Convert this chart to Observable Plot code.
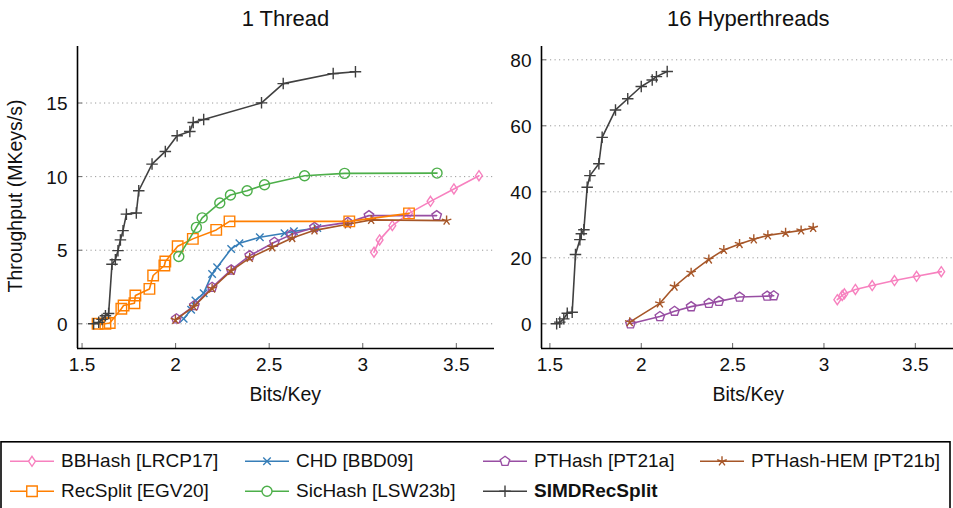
<!DOCTYPE html>
<html><head><meta charset="utf-8">
<script src="https://cdn.jsdelivr.net/npm/d3@7"></script>
<script src="https://cdn.jsdelivr.net/npm/@observablehq/plot@0.6"></script>
<style>
body{margin:0;background:#fff;}
#root{position:relative;width:953px;height:508px;overflow:hidden;font-family:"Liberation Sans",Arial,sans-serif;color:#000;background:#fff;}
.lbl{position:absolute;white-space:nowrap;line-height:1;color:#111;}
.pl{position:absolute;top:0;}
</style></head><body><div id="root"></div>
<script>
// ---------- data ----------
const seriesNames = ["BBHash [LRCP17]","CHD [BBD09]","PTHash [PT21a]","PTHash-HEM [PT21b]","RecSplit [EGV20]","SicHash [LSW23b]","SIMDRecSplit"];
const panelTitles = ["1 Thread","16 Hyperthreads"];
const xLabel = "Bits/Key";
const yLabel = "Throughput (MKeys/s)";
const xTicks = [1.5,2,2.5,3,3.5];
const yTicksLeft = [0,5,10,15];
const yTicksRight = [0,20,40,60,80];

// 1 Thread  [bits/key, MKeys/s]
const t1_BBHash = [[3.060,4.86],[3.090,5.70],[3.158,6.67],[3.247,7.50],[3.362,8.32],[3.487,9.16],[3.621,10.06]];
const t1_CHD = [[2.043,0.34],[2.083,0.95],[2.106,1.58],[2.150,2.08],[2.195,3.39],[2.222,3.84],[2.297,5.09],[2.341,5.47],[2.450,5.88],[2.582,6.15],[2.632,6.28],[2.757,6.51]];
const t1_PTHash = [[2.004,0.34],[2.100,1.24],[2.195,2.48],[2.297,3.66],[2.396,4.63],[2.528,5.54],[2.618,6.06],[2.742,6.55],[2.920,6.89],[3.033,7.35],[3.395,7.35]];
const t1_PTHashHEM = [[1.999,0.27],[2.097,1.17],[2.195,2.40],[2.297,3.60],[2.396,4.48],[2.516,5.20],[2.623,5.83],[2.742,6.35],[2.920,6.76],[3.045,7.06],[3.448,7.01]];
const t1_RecSplit = [[1.583,0.0],[1.625,0.0],[1.648,0.05],[1.710,1.02],[1.722,1.24],[1.780,1.40],[1.785,1.92],[1.860,2.37],[1.880,3.28],[1.940,3.96],[1.945,4.23],[2.011,5.27],[2.092,5.77],[2.217,6.38],[2.288,6.96],[2.928,6.96],[3.247,7.50]];
const t1_SicHash = [[2.017,4.57],[2.111,6.55],[2.142,7.20],[2.236,8.21],[2.293,8.75],[2.382,9.04],[2.475,9.45],[2.689,10.06],[2.903,10.22],[3.397,10.24]];
const t1_SIMD = [[1.562,0.0],[1.589,0.10],[1.607,0.30],[1.625,0.55],[1.642,0.70],[1.660,4.05],[1.678,4.35],[1.692,4.97],[1.705,5.70],[1.719,6.33],[1.737,7.45],[1.790,7.53],[1.803,9.04],[1.874,10.85],[1.945,11.71],[2.008,12.78],[2.076,13.07],[2.094,13.68],[2.150,13.88],[2.459,15.01],[2.575,16.32],[2.842,17.00],[2.961,17.12]];

// 16 Hyperthreads
const ht_BBHash = [[3.073,7.3],[3.100,8.6],[3.112,9.1],[3.172,10.4],[3.264,11.6],[3.386,13.1],[3.507,14.4],[3.642,15.8]];
const ht_PTHash = [[1.941,0.0],[2.102,2.2],[2.182,3.8],[2.273,5.2],[2.370,6.2],[2.425,6.8],[2.538,8.1],[2.689,8.4],[2.725,8.5]];
const ht_PTHashHEM = [[1.937,0.5],[2.102,6.2],[2.182,11.3],[2.273,15.5],[2.370,19.5],[2.452,22.4],[2.538,24.2],[2.616,25.6],[2.693,26.8],[2.790,27.6],[2.875,28.3],[2.941,29.1]];
const ht_SIMD = [[1.537,0.0],[1.554,0.5],[1.576,1.5],[1.595,3.2],[1.622,3.5],[1.640,21.0],[1.664,25.5],[1.672,27.3],[1.686,28.5],[1.704,41.4],[1.719,44.9],[1.768,48.5],[1.786,56.5],[1.859,64.8],[1.926,68.2],[2.000,71.9],[2.060,73.9],[2.083,74.9],[2.142,76.45]];

// ---------- styles ----------
const R = s => Math.sqrt(s / Math.PI);
const symDiamond = {draw(c,s){const r=R(s); c.moveTo(0,-r); c.lineTo(0.68*r,0); c.lineTo(0,r); c.lineTo(-0.68*r,0); c.closePath();}};
const symTimes = {draw(c,s){const a=R(s)*0.75; c.moveTo(-a,-a); c.lineTo(a,a); c.moveTo(a,-a); c.lineTo(-a,a);}};
const symPentagon = {draw(c,s){const r=R(s); for(let i=0;i<5;i++){const t=-Math.PI/2+i*2*Math.PI/5; const x=r*Math.cos(t), y=r*Math.sin(t); if(i) c.lineTo(x,y); else c.moveTo(x,y);} c.closePath();}};
const symStar = {draw(c,s){const r=R(s); for(let i=0;i<5;i++){const t=-Math.PI/2+i*2*Math.PI/5; c.moveTo(0,0); c.lineTo(r*Math.cos(t), r*Math.sin(t));}}};
const symSquare = {draw(c,s){const r=R(s)*1.05; c.rect(-r,-r,2*r,2*r);}};
const symCircle = {draw(c,s){const r=R(s); c.moveTo(r,0); c.arc(0,0,r,0,2*Math.PI);}};
const symPlus = {draw(c,s){const r=R(s)*1.15; c.moveTo(-r,0); c.lineTo(r,0); c.moveTo(0,-r); c.lineTo(0,r);}};

const style = {
  "BBHash [LRCP17]": {color:"#f781bf", sym:symDiamond},
  "CHD [BBD09]": {color:"#377eb8", sym:symTimes},
  "PTHash [PT21a]": {color:"#984ea3", sym:symPentagon},
  "PTHash-HEM [PT21b]": {color:"#a65628", sym:symStar},
  "RecSplit [EGV20]": {color:"#ff7f00", sym:symSquare},
  "SicHash [LSW23b]": {color:"#4daf4a", sym:symCircle},
  "SIMDRecSplit": {color:"#404040", sym:symPlus}
};

const leftSeries = [
  [seriesNames[0], t1_BBHash],[seriesNames[1], t1_CHD],[seriesNames[2], t1_PTHash],
  [seriesNames[3], t1_PTHashHEM],[seriesNames[4], t1_RecSplit],[seriesNames[5], t1_SicHash],[seriesNames[6], t1_SIMD]
];
const rightSeries = [
  [seriesNames[0], ht_BBHash],[seriesNames[2], ht_PTHash],[seriesNames[3], ht_PTHashHEM],[seriesNames[6], ht_SIMD]
];

const FONT = '"Liberation Sans", Arial, sans-serif';
const HEIGHT = 420, MT = 46, MB = 72, TICK = 5;

function panel(series, xDomain, yDomain, yTicks, width, marginLeft, marginRight) {
  const innerW = width - marginLeft - marginRight, innerH = HEIGHT - MT - MB;
  const marks = [
    Plot.ruleY(yTicks, {stroke:"#9a9a9a", strokeWidth:1, strokeDasharray:"1.2,3.3"}),
    // inward tick marks
    Plot.tickY(yTicks, {y: d => d, insetRight: innerW - TICK, stroke:"#666", strokeWidth:1}),
    Plot.tickX(xTicks, {x: d => d, insetTop: innerH - TICK, stroke:"#666", strokeWidth:1}),
    // tick labels
    Plot.axisY({ticks: yTicks, tickSize: 0, tickPadding: 10, dy: 1, fontSize: 19, fill: "#111", tickFormat: d => String(d), label: null}),
    Plot.axisX({ticks: xTicks, tickSize: 0, tickPadding: 9, fontSize: 19, fill: "#111", tickFormat: d => String(d), label: null}),
    // axis lines
    Plot.ruleX([xDomain[0]], {stroke:"#000", strokeWidth:1.6}),
    Plot.ruleY([yDomain[0]], {stroke:"#000", strokeWidth:1.6})
  ];
  for (const [name, data] of series) {
    const st = style[name];
    marks.push(Plot.line(data, {x: d => d[0], y: d => d[1], stroke: st.color, strokeWidth: 1.6}));
    marks.push(Plot.dot(data, {x: d => d[0], y: d => d[1], symbol: st.sym, r: 5, stroke: st.color, fill: "none", strokeWidth: 1.4}));
  }
  return Plot.plot({
    width, height: HEIGHT, marginTop: MT, marginBottom: MB, marginLeft, marginRight,
    x: {domain: xDomain}, y: {domain: yDomain},
    style: {background: "transparent", fontFamily: FONT, fontSize: "19px", overflow: "visible"},
    marks
  });
}

const root = document.getElementById("root");
const left = panel(leftSeries, [1.4757, 3.704], [-1.678, 18.84], yTicksLeft, 500, 77, 6);
const right = panel(rightSeries, [1.454, 3.709], [-7.485, 84.03], yTicksRight, 453, 41, 0);
left.classList.add("pl"); left.style.left = "0px";
right.classList.add("pl"); right.style.left = "500px";
root.appendChild(left); root.appendChild(right);

function label(text, x, top, size, opts = {}) {
  const d = document.createElement("div");
  d.className = "lbl";
  d.textContent = text;
  d.style.fontSize = size + "px";
  d.style.left = x + "px";
  d.style.top = top + "px";
  d.style.transform = opts.rotate ? "translate(-50%,-50%) rotate(-90deg)" : "translateX(-50%)";
  root.appendChild(d);
}
label(panelTitles[0], 285.5, 8.1, 22);
label(panelTitles[1], 748.3, 8.1, 22);
label(xLabel, 285.3, 385.2, 19.5);
label(xLabel, 748.3, 385.2, 19.5);
label(yLabel, 15.9, 195.5, 19.5, {rotate: true});

// legend
const legendRows = [[seriesNames[0], seriesNames[1], seriesNames[2], seriesNames[3]], [seriesNames[4], seriesNames[5], seriesNames[6]]];
const legendCols = [10, 245, 483, 700];
const leg = d3.create("svg").attr("width", 953).attr("height", 67)
  .style("position","absolute").style("left","0px").style("top","441px").style("font-family", FONT);
leg.append("rect").attr("x", 1).attr("y", 0.8).attr("width", 949).attr("height", 90)
  .attr("fill","none").attr("stroke","#000").attr("stroke-width",1.6);
legendRows.forEach((row, ri) => {
  const ly = 20.3 + ri * 30, ty = 26.3 + ri * 30;
  row.forEach((name, ci) => {
    const st = style[name], x0 = legendCols[ci];
    const g = leg.append("g");
    g.append("line").attr("x1", x0).attr("x2", x0 + 44).attr("y1", ly).attr("y2", ly).attr("stroke", st.color).attr("stroke-width", 1.5);
    g.append("path").attr("d", d3.symbol(st.sym, Math.PI * 25)()).attr("transform", `translate(${x0 + 22},${ly})`)
      .attr("fill","white").attr("stroke", st.color).attr("stroke-width", 1.4);
    g.append("text").attr("x", x0 + 51).attr("y", ty).attr("font-size", 19).attr("fill", "#111")
      .attr("font-weight", name === "SIMDRecSplit" ? "bold" : null).text(name);
  });
});
root.appendChild(leg.node());
</script>
</body></html>
